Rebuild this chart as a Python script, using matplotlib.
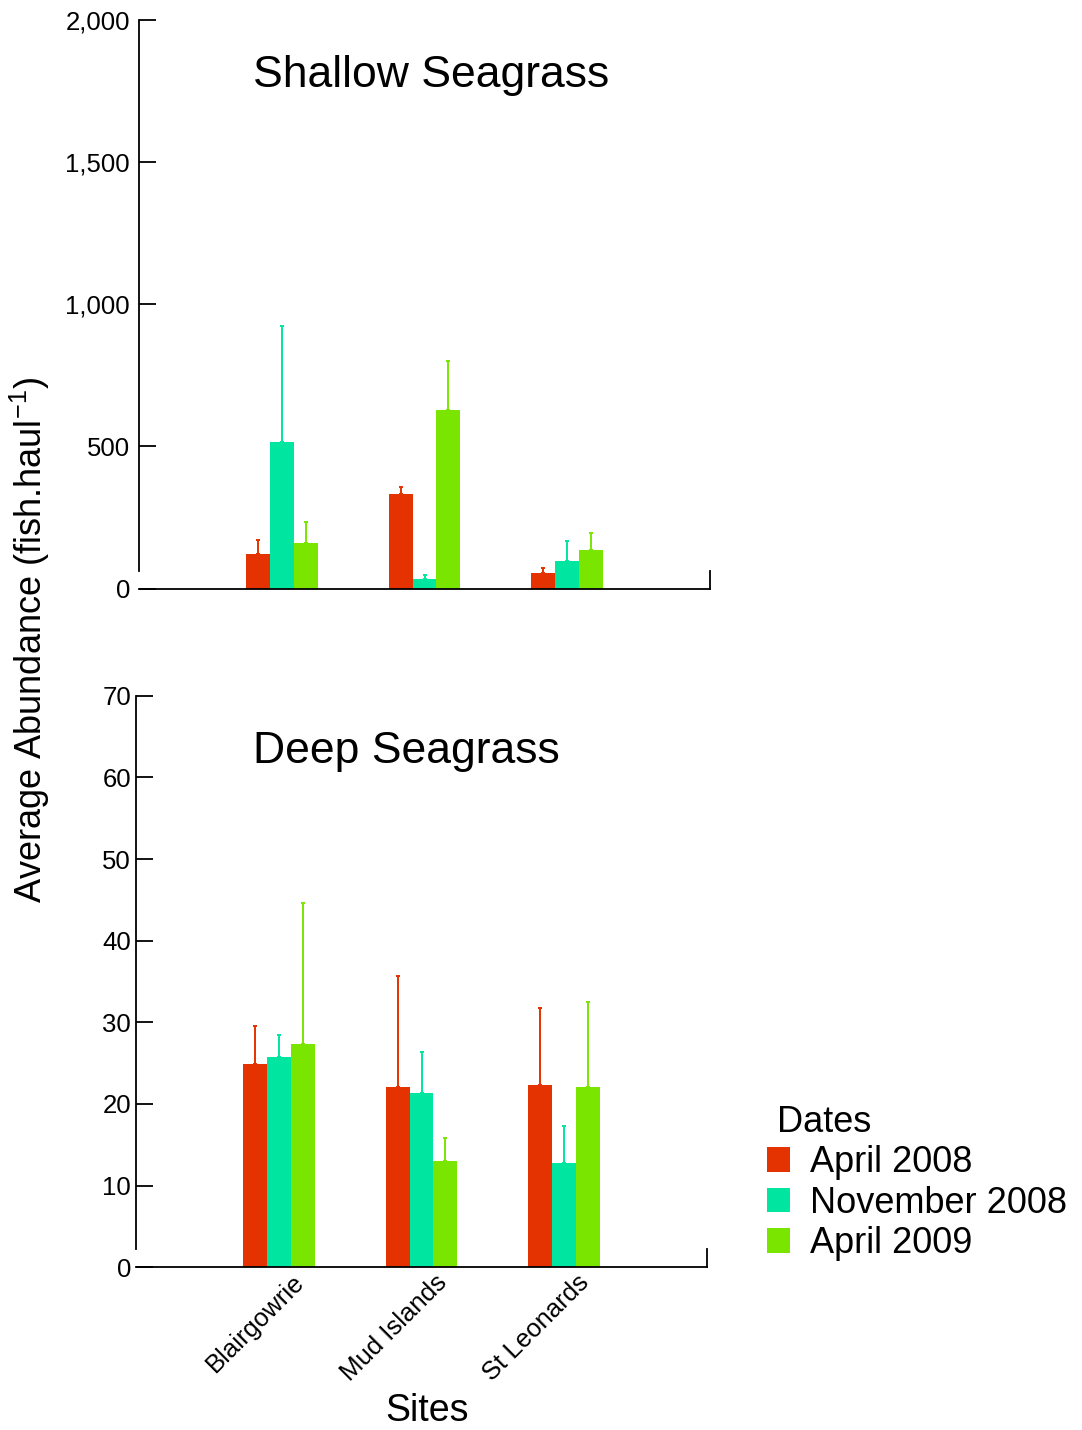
import matplotlib
matplotlib.use("Agg")
import matplotlib.pyplot as plt
import matplotlib.transforms as mtransforms
import numpy as np

plt.rcParams['font.family'] = ['Liberation Sans', 'DejaVu Sans']
plt.rcParams['mathtext.fontset'] = 'custom'
plt.rcParams['mathtext.rm'] = 'Liberation Sans'

# sites and sampling dates
sites = ["Blairgowrie", "Mud Islands", "St Leonards"]
dates = ["April 2008", "November 2008", "April 2009"]
colors = ["#E43200", "#00E6A0", "#7AE600"]

# shallow seagrass: mean and top of error bar, one list per date
shallow_mean = [[122, 334, 54], [514, 35, 97], [160, 627, 136]]
shallow_top = [[171, 358, 72], [925, 47, 167], [234, 800, 196]]

# deep seagrass
deep_mean = [[24.9, 22.1, 22.3], [25.75, 21.3, 12.8], [27.3, 13.0, 22.1]]
deep_top = [[29.6, 35.7, 31.8], [28.4, 26.4, 17.3], [44.6, 15.8, 32.5]]

shallow_ticks = [0, 500, 1000, 1500, 2000]
shallow_ticklabels = ["0", "500", "1,000", "1,500", "2,000"]
deep_ticks = [0, 10, 20, 30, 40, 50, 60, 70]

W, H = 1082, 1430
fig = plt.figure(figsize=(W / 100, H / 100), dpi=100)

ax1 = fig.add_axes([139 / W, 1 - 588.5 / H, 571 / W, 568.5 / H])
ax2 = fig.add_axes([136 / W, 1 - 1267.3 / H, 571 / W, 571.6 / H])

x = np.arange(1, len(sites) + 1)
bw = 0.168


def draw_panel(ax, means, tops, ymax, gap, ticks, ticklabels, pad):
    for i in range(len(dates)):
        xs = x + (i - 1) * bw
        m = np.array(means[i])
        t = np.array(tops[i])
        ax.bar(xs, m, width=bw, color=colors[i], label=dates[i], zorder=2)
        ax.errorbar(xs, m, yerr=[np.zeros_like(m), t - m], fmt='none',
                    ecolor=colors[i], elinewidth=1.4, capsize=1.5,
                    capthick=1.4, zorder=3)
    ax.set_xlim(0, 4)
    ax.set_ylim(0, ymax)
    ax.spines['top'].set_visible(False)
    # the y axis line stops short of zero, the x axis ends in a small tick
    ax.spines['left'].set_bounds(gap, ymax)
    ax.spines['right'].set_bounds(0, gap)
    for s in ['left', 'right', 'bottom']:
        ax.spines[s].set_linewidth(1.3)
    ax.set_yticks(ticks)
    ax.set_yticklabels(ticklabels)
    ax.tick_params(axis='y', direction='in', length=12, width=1.3,
                   labelsize=18.5, pad=pad, right=False)
    ax.tick_params(axis='x', length=0)


draw_panel(ax1, shallow_mean, shallow_top, 2000, 62, shallow_ticks,
           shallow_ticklabels, 6.5)
draw_panel(ax2, deep_mean, deep_top, 70, 2.3, deep_ticks,
           [str(t) for t in deep_ticks], 3.5)

ax1.set_xticks([])
ax2.set_xticks(x)
ax2.set_xticklabels(sites, rotation=45, ha='right', va='top',
                    rotation_mode='anchor', fontsize=18.5)
ax2.tick_params(axis='x', pad=2)
shift = mtransforms.ScaledTranslation(13 / 100, 0, fig.dpi_scale_trans)
for lab in ax2.get_xticklabels():
    lab.set_transform(lab.get_transform() + shift)

fig.text(253 / W, 1 - 76 / H, "Shallow Seagrass", fontsize=32, va='center')
fig.text(253 / W, 1 - 752 / H, "Deep Seagrass", fontsize=32, va='center')
fig.text(30 / W, 1 - 640 / H, "Average Abundance (fish.haul$^{\\mathregular{-1}}$)",
         rotation=90, fontsize=26, ha='center', va='center')
fig.text(427 / W, 1 - 1411 / H, "Sites", fontsize=27, ha='center', va='center')

leg = ax2.legend(title=" Dates", loc='upper left', frameon=False,
                 bbox_to_anchor=(767 / W, 1 - 1105 / H),
                 bbox_transform=fig.transFigure, borderaxespad=0, borderpad=0,
                 fontsize=26, title_fontsize=26, handlelength=0.64,
                 handleheight=0.67, handletextpad=0.55, labelspacing=0.15)
leg._legend_box.align = "left"

fig.savefig("out.png", dpi=100)
